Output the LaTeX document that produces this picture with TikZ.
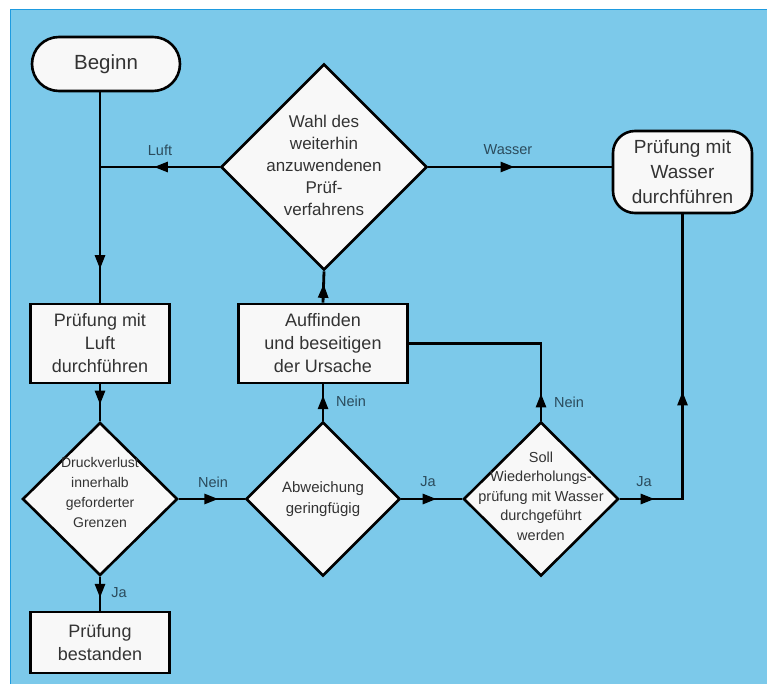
\documentclass[tikz,border=0pt]{standalone}
\usepackage{fontspec}
\setmainfont{Liberation Sans}
\usetikzlibrary{shapes.geometric,arrows.meta,decorations.markings}
\definecolor{bg}{HTML}{7CC9EA}
\definecolor{bgline}{HTML}{1E9BE0}
\definecolor{txt}{HTML}{333333}
\definecolor{lblc}{HTML}{2B4B5C}
\definecolor{boxfill}{HTML}{F8F8F8}
\tikzset{
  procbox/.style={draw=black, fill=boxfill, line width=2.6pt, inner sep=0pt, align=center, text=txt, font=\fontsize{18}{23}\selectfont},
  termbox/.style={procbox, rounded corners=22pt},
  dia/.style={diamond, draw=black, fill=boxfill, line width=2.6pt, inner sep=0pt},
  dtext/.style={align=center, text=txt, inner sep=0pt},
  lbl/.style={text=lblc, font=\fontsize{14.5}{16}\selectfont, inner sep=0pt},
  conn/.style={line width=2.8pt, draw=black},
  tip/.tip={Triangle[length=14pt,width=10pt]},
  arr/.style={postaction={decorate, decoration={markings, mark=at position #1 with {\arrow{tip}}}}}
}
\begin{document}
\begin{tikzpicture}[x=1pt,y=-1pt]
\useasboundingbox (0,0) rectangle (767,684);
\fill[white] (0,0) rectangle (767,684);
\fill[bg] (10,10) rectangle (767,684);
\draw[bgline, line width=1pt] (10,684) -- (10,10) -- (767,10);

% terminals and process boxes
\node[termbox, rounded corners=27pt, minimum width=148pt, minimum height=54pt, font=\fontsize{20.5}{24}\selectfont] (beginn) at (106,64) {Beginn};
\node[termbox, minimum width=139pt, minimum height=82pt, font=\fontsize{19}{25}\selectfont] (wasser) at (682.5,172) {Prüfung mit\\Wasser\\durchführen};
\node[procbox, minimum width=139pt, minimum height=79pt] (luft) at (100,343.5) {Prüfung mit\\Luft\\durchführen};
\node[procbox, minimum width=139pt, minimum height=61pt] (best) at (100,642.5) {Prüfung\\bestanden};
\node[procbox, minimum width=169pt, minimum height=79pt] (auff) at (323,343.5) {Auffinden\\und beseitigen\\der Ursache};

% decisions
\node[dia, minimum width=206pt, minimum height=206pt] (wahl) at (324,167) {};
\node[dtext, font=\fontsize{17}{22}\selectfont] at ([yshift=1.5pt]wahl.center) {Wahl des\\weiterhin\\anzuwendenen\\Prüf-\\verfahrens};
\node[dia, minimum width=155pt, minimum height=153pt] (druck) at (100,499) {};
\node[dtext, font=\fontsize{14}{20}\selectfont] at ([yshift=7pt]druck.center) {Druckverlust\\innerhalb\\geforderter\\Grenzen};
\node[dia, minimum width=154pt, minimum height=154pt] (abw) at (323,499) {};
\node[dtext, font=\fontsize{15}{21}\selectfont] at (abw.center) {Abweichung\\geringfügig};
\node[dia, minimum width=155pt, minimum height=154pt] (soll) at (541,499) {};
\node[dtext, font=\fontsize{14.5}{19.5}\selectfont] at ([yshift=3pt]soll.center) {Soll\\Wiederholungs-\\prüfung mit Wasser\\durchgeführt\\werden};

% connectors
\draw[conn, arr=0.84] (beginn.south -| luft.north) -- (luft.north);
\draw[conn, arr=0.55] (wahl.west) -- (wahl.west -| luft.north);
\draw[conn, arr=0.47] (wahl.east) -- (wasser.west |- wahl.east);
\draw[conn, postaction={decorate, decoration={markings,
   mark=at position 0.10 with {\arrow{tip}},
   mark=at position 0.49 with {\arrow{tip}}}}]
   (soll.east) -- (soll.east -| wasser.south) -- (wasser.south);
\draw[conn, arr=0.55] (luft.south) -- (druck.north);
\draw[conn, arr=0.62] (druck.south) -- (best.north);
\draw[conn, arr=0.6] (druck.east) -- (abw.west);
\draw[conn, arr=0.7] (abw.north) -- (auff.south);
\draw[conn, arr=0.6] (auff.north) -- (wahl.south);
\draw[conn, arr=0.58] (abw.east) -- (soll.west);
\draw[conn, arr=0.13] (soll.north) -- (soll.north |- auff.east) -- (auff.east);

% labels
\node[lbl] at (160,150) {Luft};
\node[lbl] at (508,150) {Wasser};
\node[lbl] at (213,482) {Nein};
\node[lbl] at (119,593) {Ja};
\node[lbl] at (351,401) {Nein};
\node[lbl] at (428,482) {Ja};
\node[lbl] at (569,402) {Nein};
\node[lbl] at (644,482) {Ja};
\end{tikzpicture}
\end{document}
